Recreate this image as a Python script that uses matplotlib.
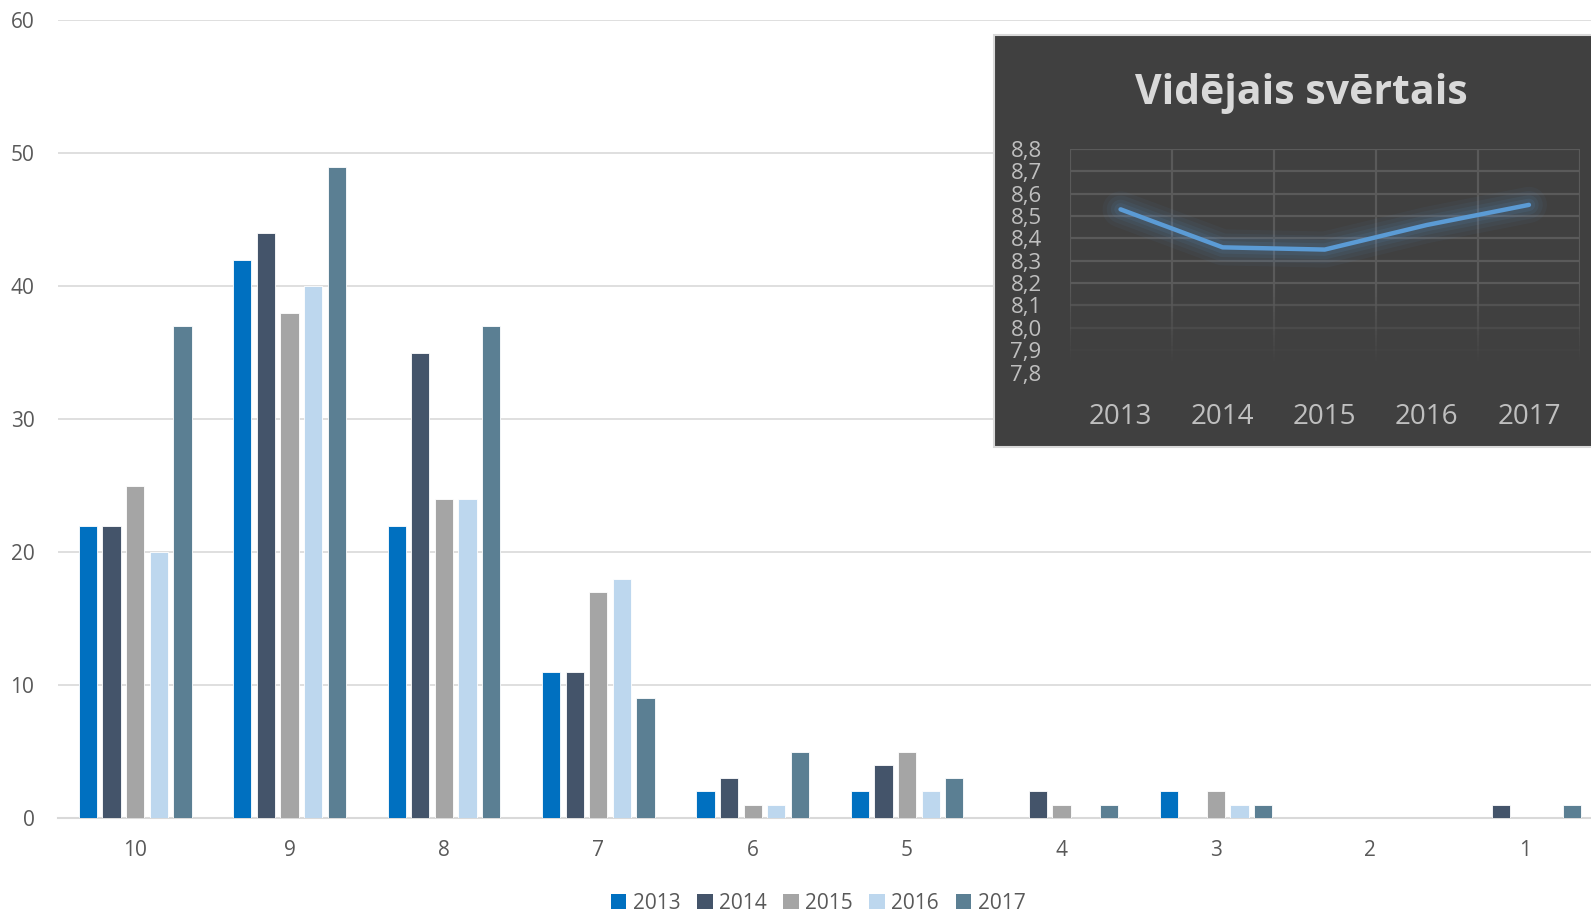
import matplotlib
matplotlib.use("Agg")
import matplotlib.pyplot as plt
import numpy as np
from matplotlib.patches import Rectangle

plt.rcParams['font.family'] = ['Open Sans', 'DejaVu Sans']

categories = ["10", "9", "8", "7", "6", "5", "4", "3", "2", "1"]
years = ["2013", "2014", "2015", "2016", "2017"]
v2013 = [22, 42, 22, 11, 2, 2, 0, 2, 0, 0]
v2014 = [22, 44, 35, 11, 3, 4, 2, 0, 0, 1]
v2015 = [25, 38, 24, 17, 1, 5, 1, 2, 0, 0]
v2016 = [20, 40, 24, 18, 1, 2, 0, 1, 0, 0]
v2017 = [37, 49, 37, 9, 5, 3, 1, 1, 0, 1]
series = [v2013, v2014, v2015, v2016, v2017]
colors = ["#0070c0", "#44546a", "#a5a5a5", "#bdd7ee", "#5b7f93"]

avg_years = ["2013", "2014", "2015", "2016", "2017"]
avg_values = [8.53, 8.36, 8.35, 8.46, 8.55]
avg_ticks = [8.8, 8.7, 8.6, 8.5, 8.4, 8.3, 8.2, 8.1, 8.0, 7.9, 7.8]

W, H = 1591, 913
fig = plt.figure(figsize=(W / 100, H / 100), dpi=100)
fig.patch.set_facecolor("white")

ax = fig.add_axes([58 / W, 1 - 818 / H, 1 - 58 / W, (818 - 20.3) / H])
x = np.arange(len(categories))
step = 0.153
bw = 0.118
for i, (vals, c, y) in enumerate(zip(series, colors, years)):
    ax.bar(x + (i - 2) * step, vals, width=bw, color=c, label=y,
           edgecolor="white", linewidth=0.6, zorder=3)
ax.set_ylim(0, 60)
ax.set_xlim(-0.5, 9.43)
ax.set_yticks(range(0, 61, 10))
ax.set_xticks(x)
ax.set_xticklabels(categories)
ax.grid(axis="y", color="#d9d9d9", linewidth=1.2, zorder=0)
for s in ["top", "right", "left"]:
    ax.spines[s].set_visible(False)
ax.spines["bottom"].set_color("#d9d9d9")
ax.spines["bottom"].set_linewidth(1.5)
ax.tick_params(axis="both", length=0, labelsize=15, labelcolor="#595959")
ax.tick_params(axis="x", pad=16)
ax.tick_params(axis="y", pad=17)
for lab in ax.get_yticklabels():
    lab.set_horizontalalignment("right")

leg = fig.legend(loc="center", bbox_to_anchor=(818 / W, 1 - 903 / H), ncol=5,
                 frameon=False, fontsize=15, handlelength=0.75, handleheight=0.75,
                 handletextpad=0.3, columnspacing=0.8, labelcolor="#595959")
for h in leg.legend_handles:
    h.set_edgecolor("none")

# Inset box
box = Rectangle((994 / W, 1 - 447.5 / H), (W - 994) / W + 0.01, (447.5 - 35.5) / H,
                transform=fig.transFigure, facecolor="#404040", edgecolor="#d9d9d9",
                linewidth=1.5, zorder=5)
fig.patches.append(box)

fig.text(1301 / W, 1 - 93 / H, "Vidējais svērtais", ha="center", va="center",
         fontsize=29.5, fontweight="bold", color="#d9d9d9", zorder=6)

iax = fig.add_axes([1069.5 / W, 1 - 372.5 / H, (1580 - 1069.5) / W, (372.5 - 149) / H], zorder=6)
iax.set_facecolor("none")
iax.set_xlim(-0.5, 4.5)
iax.set_ylim(7.8, 8.8)
for s in iax.spines.values():
    s.set_visible(False)
gridc = "#5a5a5a"
for t in avg_ticks[:-1]:
    a = 1.0 if t >= 8.2 else max(0.0, 1.0 - (8.2 - t) * 3.0)
    iax.axhline(t, color=gridc, linewidth=1.6, alpha=a, zorder=1)
# vertical lines with fade toward bottom
ys = np.linspace(7.8, 8.8, 60)
for xv in np.arange(-0.5, 4.6, 1.0):
    for j in range(len(ys) - 1):
        ym = (ys[j] + ys[j + 1]) / 2
        a = 1.0 if ym >= 8.2 else max(0.0, 1.0 - (8.2 - ym) * 2.8)
        iax.plot([xv, xv], [ys[j], ys[j + 1]], color=gridc, linewidth=1.6,
                 alpha=a, solid_capstyle="butt", zorder=1)
xi = np.arange(len(avg_years))
for lw, a in [(26, 0.05), (20, 0.06), (14, 0.08), (9, 0.1)]:
    iax.plot(xi, avg_values, color="#5b9bd5", linewidth=lw, alpha=a,
             solid_capstyle="round", solid_joinstyle="round", zorder=2)
iax.plot(xi, avg_values, color="#5b9bd5", linewidth=3.2,
         solid_capstyle="round", solid_joinstyle="round", zorder=3)
iax.set_yticks(avg_ticks)
iax.set_yticklabels([f"{t:.1f}".replace(".", ",") for t in avg_ticks])
iax.set_xticks(xi)
iax.set_xticklabels(avg_years)
iax.tick_params(axis="y", length=0, labelsize=16, labelcolor="#bfbfbf", pad=20)
iax.tick_params(axis="x", length=0, labelsize=20, labelcolor="#bfbfbf", pad=22)

fig.savefig("out.png", dpi=100, facecolor="white")
